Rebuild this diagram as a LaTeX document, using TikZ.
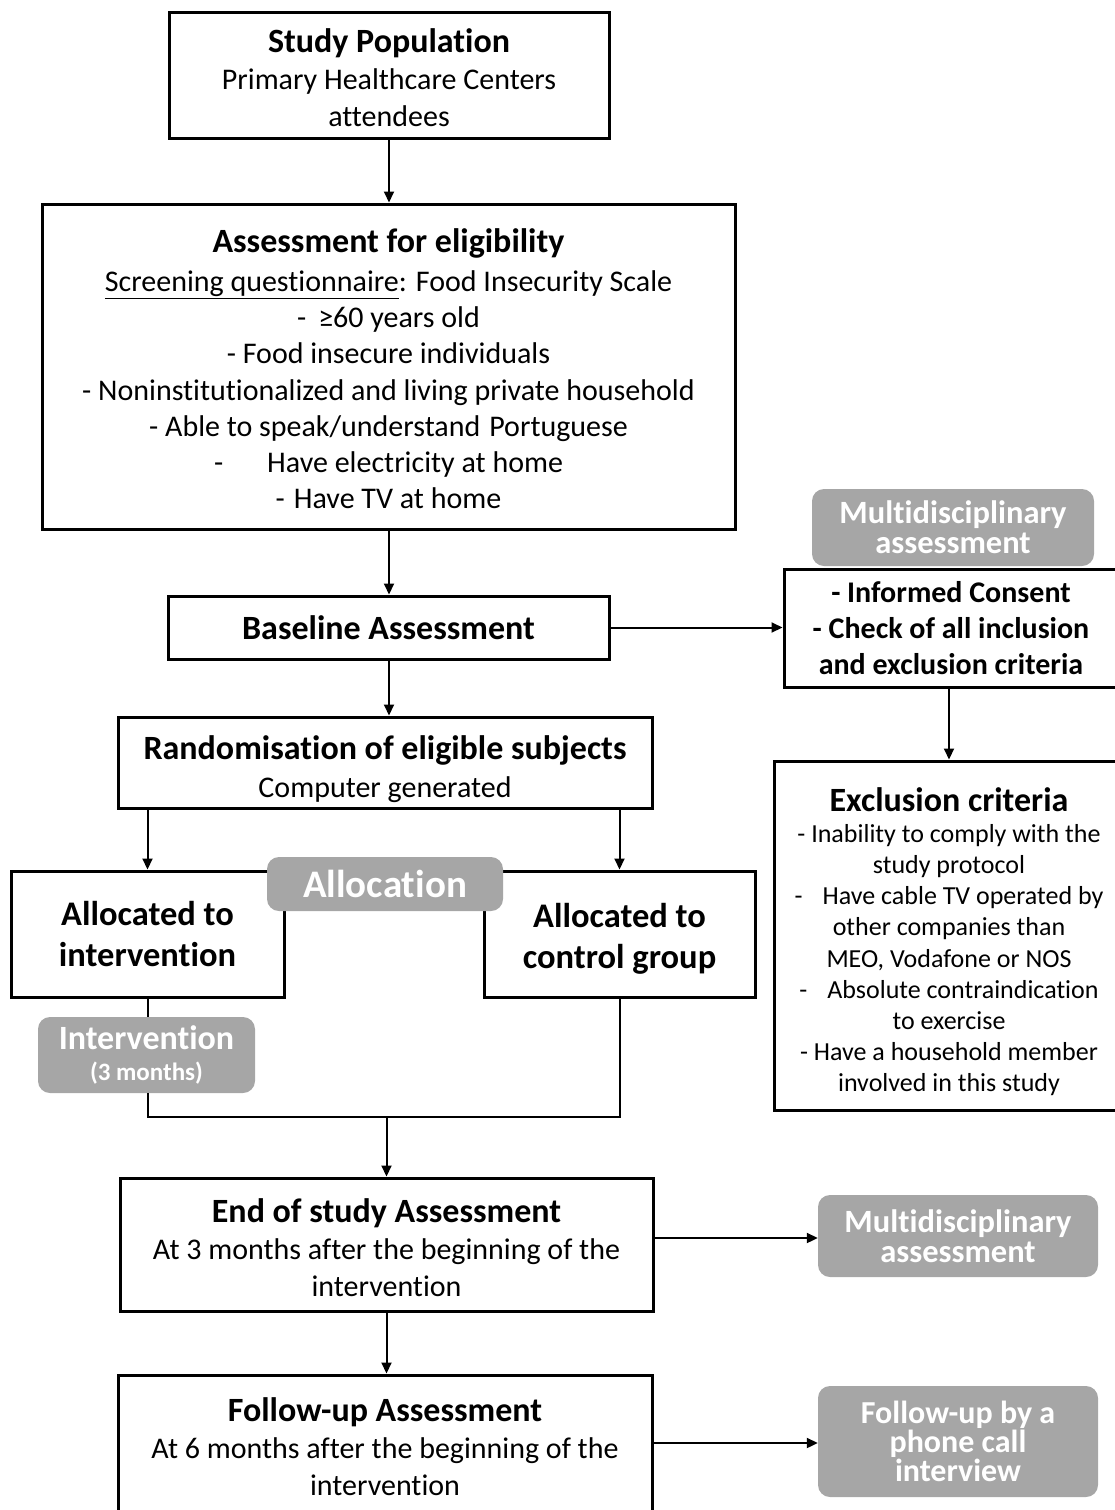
\documentclass[tikz,border=0pt]{standalone}
\usepackage{fontspec}
\setmainfont{Carlito}[Ligatures=NoCommon]
\usetikzlibrary{arrows.meta,calc}
\definecolor{panelgray}{HTML}{A6A6A6}
\newcommand{\fs}[2]{\fontsize{#1}{#2}\selectfont}
\newcommand{\lift}[1]{\rule{0pt}{#1}}
\begin{document}
\begin{tikzpicture}[x=1pt,y=-1pt,
  flowbox/.style={draw, line width=3pt, fill=white, align=center, inner sep=0pt},
  tagbox/.style={fill=panelgray, rounded corners=12pt, text=white, align=center, inner sep=0pt, font=\bfseries},
  link/.style={line width=2pt},
  arr/.style={line width=2pt, -{Triangle[length=11pt,width=10pt]}}]
\useasboundingbox (0,0) rectangle (1115,1510);

% main column
\node[flowbox, minimum width=440pt, minimum height=126pt, font=\fs{30}{37}] (pop) at (389,75)
  {{\bfseries\fs{34}{37}\lift{29pt}Study Population}\\Primary Healthcare Centers\\attendees};

\node[flowbox, minimum width=693pt, minimum height=325pt, font=\fs{30}{36.3}] (elig) at (388.5,366.5)
  {{\bfseries\fs{34}{36}\lift{29pt}Assessment for eligibility}\\[2pt]
   \underline{Screening questionnaire}: Food Insecurity Scale\\
   -\hspace{12pt}≥60 years old\\
   - Food insecure individuals\\
   - Noninstitutionalized and living private household\\
   - Able to speak/understand\hspace{9pt}Portuguese\\
   -\hspace{44pt}Have electricity at home\\
   -\hspace{9pt}Have TV at home};

\node[flowbox, minimum width=441pt, minimum height=63pt, font=\bfseries\fs{34}{36}] (base) at (388.5,627.5)
  {Baseline Assessment};

\node[flowbox, minimum width=534pt, minimum height=91pt, font=\fs{30}{38}] (rand) at (385,762.5)
  {{\bfseries\fs{34}{38}\lift{38pt}Randomisation of eligible subjects}\\Computer generated};

\node[flowbox, minimum width=273pt, minimum height=126pt, font=\bfseries\fs{34.5}{41}] (ai) at (147.5,934)
  {Allocated to\\intervention};

\node[flowbox, minimum width=271pt, minimum height=126pt, font=\bfseries\fs{34.5}{41}] (ac) at (619.5,934)
  {\lift{33pt}Allocated to\\control group};

\node[tagbox, minimum width=236pt, minimum height=54pt, font=\bfseries\fs{39}{40}] (alloc) at (385,884)
  {Allocation};

\node[tagbox, minimum width=217pt, minimum height=76pt, font=\bfseries\fs{34}{31}] (intv) at (146.5,1055)
  {Intervention\\{\fs{25}{31}(3 months)}};

\node[flowbox, minimum width=533pt, minimum height=133pt, font=\fs{30}{37}] (endst) at (386.5,1244.5)
  {{\bfseries\fs{34}{37}\lift{31pt}End of study Assessment}\\At 3 months after the beginning of the\\intervention};

\node[flowbox, minimum width=534pt, minimum height=144pt, font=\fs{30}{37}] (fup) at (385,1447)
  {{\bfseries\fs{34}{37}Follow-up Assessment}\\At 6 months after the beginning of the\\intervention};

% right column
\node[tagbox, minimum width=282pt, minimum height=77pt, font=\bfseries\fs{32.5}{30}] (multi1) at (953,527.5)
  {Multidisciplinary\\assessment};

\node[flowbox, minimum width=334pt, minimum height=118pt, font=\bfseries\fs{30}{36}] (cons) at (951,628)
  {- Informed Consent\\- Check of all inclusion\\and exclusion criteria};

\node[flowbox, minimum width=350pt, minimum height=349pt, font=\fs{26}{31.2}] (excl) at (949,935.5)
  {{\bfseries\fs{34}{36}\lift{36pt}Exclusion criteria}\\
   - Inability to comply with the\\
   study protocol\\
   -\hspace{20pt}Have cable TV operated by\\
   other companies than\\
   MEO, Vodafone or NOS\\
   -\hspace{20pt}Absolute contraindication\\
   to exercise\\
   - Have a household member\\
   involved in this study};

\node[tagbox, minimum width=280pt, minimum height=82pt, font=\bfseries\fs{32.5}{30}] (multi2) at (958,1236)
  {Multidisciplinary\\assessment};

\node[tagbox, minimum width=280pt, minimum height=111pt, font=\bfseries\fs{32}{29}] (phone) at (958,1441.5)
  {Follow-up by a\\phone call\\interview};

% connectors
\draw[arr] (pop.south) -- (pop.south |- elig.north);
\draw[arr] (pop.south |- elig.south) -- (pop.south |- base.north);
\draw[arr] (base.east) -- (base.east -| cons.west);
\draw[arr] (pop.south |- base.south) -- (pop.south |- rand.north);
\draw[arr] (cons.south -| excl.north) -- (excl.north);
\draw[arr] (rand.south -| ai.north) -- (ai.north);
\draw[arr] (rand.south -| ac.north) -- (ac.north);

\coordinate (join) at (386.5,1117);
\draw[link] (ai.south) -- (intv.north -| ai.south);
\draw[link] (intv.south -| ai.south) |- (join) -| (ac.south);
\draw[arr] (join) -- (join |- endst.north);

\draw[arr] (endst.east |- 0,1238) -- (multi2.west |- 0,1238);
\draw[arr] (join |- endst.south) -- (join |- fup.north);
\draw[arr] (fup.east |- 0,1443) -- (phone.west |- 0,1443);
\end{tikzpicture}
\end{document}
